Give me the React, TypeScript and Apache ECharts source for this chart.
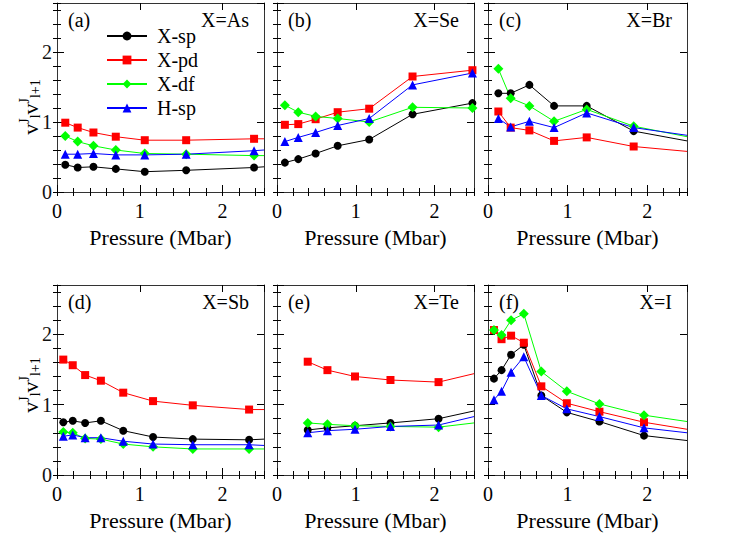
import React, { useEffect, useRef } from "react";
import * as echarts from "echarts";

const FONT = "'Liberation Serif', 'Times New Roman', Times, serif";

const PANEL_LABELS = ["(a)", "(b)", "(c)", "(d)", "(e)", "(f)"];
const ELEMENT_LABELS = ["X=As", "X=Se", "X=Br", "X=Sb", "X=Te", "X=I"];
const SERIES_NAMES = ["X-sp", "X-pd", "X-df", "H-sp"];
const X_AXIS_NAME = "Pressure (Mbar)";

// (a) X=As  (last value = where the line leaves the frame)
const X_A = [0.1, 0.25, 0.44, 0.71, 1.06, 1.56, 2.38, 2.5];
const A_SP = [0.39, 0.35, 0.36, 0.33, 0.29, 0.31, 0.35, 0.36];
const A_PD = [0.99, 0.92, 0.85, 0.79, 0.74, 0.74, 0.76, 0.76];
const A_DF = [0.8, 0.72, 0.66, 0.6, 0.55, 0.54, 0.52, 0.52];
const A_HSP = [0.54, 0.54, 0.55, 0.53, 0.53, 0.54, 0.59, 0.6];

// (b) X=Se
const X_B = [0.1, 0.27, 0.49, 0.77, 1.17, 1.72, 2.48];
const B_SP = [0.42, 0.47, 0.55, 0.66, 0.75, 1.11, 1.27];
const B_PD = [0.96, 0.97, 1.04, 1.14, 1.19, 1.65, 1.74];
const B_DF = [1.24, 1.14, 1.08, 1.05, 1.0, 1.21, 1.2];
const B_HSP = [0.72, 0.78, 0.85, 0.95, 1.05, 1.53, 1.7];

// (c) X=Br
const X_C = [0.13, 0.285, 0.52, 0.83, 1.24, 1.83, 2.5];
const C_SP = [1.41, 1.41, 1.53, 1.23, 1.23, 0.87, 0.73];
const C_PD = [1.15, 0.92, 0.88, 0.73, 0.78, 0.65, 0.58];
const C_DF = [1.76, 1.34, 1.23, 1.01, 1.18, 0.94, 0.79];
const C_HSP = [1.05, 0.93, 1.01, 0.92, 1.13, 0.92, 0.81];

// (d) X=Sb
const X_D = [0.076, 0.19, 0.34, 0.53, 0.8, 1.16, 1.64, 2.32, 2.5];
const D_SP = [0.75, 0.77, 0.74, 0.77, 0.63, 0.54, 0.51, 0.5, 0.51];
const D_PD = [1.64, 1.56, 1.42, 1.34, 1.17, 1.05, 0.99, 0.93, 0.93];
const D_DF = [0.61, 0.6, 0.52, 0.51, 0.44, 0.4, 0.37, 0.37, 0.37];
const D_HSP = [0.55, 0.57, 0.53, 0.53, 0.48, 0.44, 0.43, 0.43, 0.42];

// (e) X=Te
const X_E = [0.39, 0.64, 0.99, 1.44, 2.05, 2.5];
const E_SP = [0.64, 0.67, 0.7, 0.74, 0.8, 0.91];
const E_PD = [1.61, 1.49, 1.4, 1.35, 1.32, 1.44];
const E_DF = [0.74, 0.72, 0.7, 0.69, 0.68, 0.74];
const E_HSP = [0.6, 0.63, 0.65, 0.69, 0.71, 0.83];

// (f) X=I
const X_F = [0.075, 0.17, 0.29, 0.45, 0.67, 0.99, 1.4, 1.96, 2.5];
const F_SP = [1.37, 1.49, 1.71, 1.85, 1.13, 0.89, 0.76, 0.56, 0.49];
const F_PD = [2.06, 1.93, 1.98, 1.88, 1.26, 1.02, 0.9, 0.75, 0.65];
const F_DF = [2.06, 1.99, 2.2, 2.29, 1.47, 1.19, 1.01, 0.85, 0.76];
const F_HSP = [1.07, 1.19, 1.46, 1.68, 1.13, 0.94, 0.83, 0.67, 0.6];

const PANELS = [
  { x: X_A, ys: [A_SP, A_PD, A_DF, A_HSP] },
  { x: X_B, ys: [B_SP, B_PD, B_DF, B_HSP] },
  { x: X_C, ys: [C_SP, C_PD, C_DF, C_HSP] },
  { x: X_D, ys: [D_SP, D_PD, D_DF, D_HSP] },
  { x: X_E, ys: [E_SP, E_PD, E_DF, E_HSP] },
  { x: X_F, ys: [F_SP, F_PD, F_DF, F_HSP] },
];

const X_MAX = 2.5;
const Y_MAX = 2.7;

const GRIDS = [
  { left: 57, top: 3, width: 207, height: 189 },
  { left: 277, top: 3, width: 197, height: 189 },
  { left: 488, top: 3, width: 199, height: 189 },
  { left: 57, top: 285, width: 207, height: 190 },
  { left: 277, top: 285, width: 197, height: 190 },
  { left: 488, top: 285, width: 199, height: 190 },
];

const STYLES = [
  { color: "#000000", symbol: "circle", size: 8 },
  { color: "#ff0000", symbol: "rect", size: 8 },
  { color: "#00ff00", symbol: "diamond", size: 10 },
  { color: "#0000ff", symbol: "triangle", size: 9 },
];

const AXIS_LINE = { show: true, onZero: false, lineStyle: { color: "#333", width: 1 } };

function buildOption() {
  const xAxis: any[] = [];
  const yAxis: any[] = [];
  const series: any[] = [];
  const title: any[] = [];

  GRIDS.forEach((g, gi) => {
    const xb = { gridIndex: gi, type: "value", min: 0, max: X_MAX, splitLine: { show: false } };
    xAxis.push(
      {
        ...xb,
        position: "bottom",
        interval: 1,
        axisLine: AXIS_LINE,
        axisTick: { show: true, inside: true, length: 7, lineStyle: { color: "#000" } },
        axisLabel: { show: true, showMaxLabel: false, margin: 9, fontSize: 20, fontFamily: FONT, color: "#000" },
        name: X_AXIS_NAME,
        nameLocation: "middle",
        nameGap: 34,
        nameTextStyle: { fontSize: 22, fontFamily: FONT, color: "#000" },
      },
      {
        ...xb,
        position: "bottom",
        interval: 0.2,
        axisLine: { show: false },
        axisTick: { show: true, inside: true, length: 4, lineStyle: { color: "#000" } },
        axisLabel: { show: false },
      },
      {
        ...xb,
        position: "top",
        interval: 1,
        axisLine: AXIS_LINE,
        axisTick: { show: true, inside: true, length: 7, lineStyle: { color: "#000" } },
        axisLabel: { show: false },
      },
      {
        ...xb,
        position: "top",
        interval: 0.2,
        axisLine: { show: false },
        axisTick: { show: true, inside: true, length: 4, lineStyle: { color: "#000" } },
        axisLabel: { show: false },
      }
    );
    const yb = { gridIndex: gi, type: "value", min: 0, max: Y_MAX, splitLine: { show: false } };
    const showY = gi === 0 || gi === 3;
    yAxis.push(
      {
        ...yb,
        position: "left",
        interval: 1,
        axisLine: AXIS_LINE,
        axisTick: { show: true, inside: true, length: 7, lineStyle: { color: "#000" } },
        axisLabel: { show: showY, showMaxLabel: false, margin: 5, fontSize: 20, fontFamily: FONT, color: "#111" },
      },
      {
        ...yb,
        position: "left",
        interval: 0.2,
        axisLine: { show: false },
        axisTick: { show: true, inside: true, length: 4, lineStyle: { color: "#000" } },
        axisLabel: { show: false },
      },
      {
        ...yb,
        position: "right",
        interval: 1,
        axisLine: AXIS_LINE,
        axisTick: { show: true, inside: true, length: 7, lineStyle: { color: "#000" } },
        axisLabel: { show: false },
      },
      {
        ...yb,
        position: "right",
        interval: 0.2,
        axisLine: { show: false },
        axisTick: { show: true, inside: true, length: 4, lineStyle: { color: "#000" } },
        axisLabel: { show: false },
      }
    );

    const p = PANELS[gi];
    p.ys.forEach((ys, si) => {
      const st = STYLES[si];
      series.push({
        type: "line",
        name: SERIES_NAMES[si],
        xAxisIndex: gi * 4,
        yAxisIndex: gi * 4,
        clip: true,
        symbol: st.symbol,
        symbolSize: st.size,
        color: st.color,
        lineStyle: { color: st.color, width: 1 },
        itemStyle: { color: st.color },
        data: p.x.map((x, i) => (x >= X_MAX ? { value: [x, ys[i]], symbol: "none" } : [x, ys[i]])),
      });
    });

    title.push(
      {
        text: PANEL_LABELS[gi],
        left: g.left + 11,
        top: g.top + 7,
        padding: 0,
        textStyle: { fontSize: 20, fontWeight: "normal", fontFamily: FONT, color: "#000" },
      },
      {
        text: ELEMENT_LABELS[gi],
        right: 730 - (g.left + g.width - 15),
        top: g.top + 7,
        padding: 0,
        textStyle: { fontSize: 20, fontWeight: "normal", fontFamily: FONT, color: "#000" },
      }
    );
  });

  const yName = "{v|v}{s|J}{b|l}{v|v}{s|J}{b|l+1}";
  const rich = {
    v: { fontSize: 22, fontFamily: FONT, fill: "#000" },
    s: { fontSize: 14, fontFamily: FONT, fill: "#000", padding: [0, 0, 11, 0] },
    b: { fontSize: 14, fontFamily: FONT, fill: "#000", padding: [11, 0, 0, 0] },
  };

  return {
    animation: false,
    backgroundColor: "#fff",
    textStyle: { fontFamily: FONT },
    title,
    grid: GRIDS.map((g) => ({ ...g, containLabel: false })),
    xAxis,
    yAxis,
    series,
    legend: {
      data: SERIES_NAMES,
      orient: "vertical",
      left: 106,
      top: 26,
      itemWidth: 40,
      itemHeight: 11,
      itemGap: 4,
      selectedMode: false,
      padding: 0,
      textStyle: { fontSize: 20, fontFamily: FONT, color: "#000", padding: [0, 0, 0, 5] },
    },
    graphic: [
      {
        type: "text",
        x: 30,
        y: 107,
        rotation: Math.PI / 2,
        style: { text: yName, rich, fontSize: 22, fontFamily: FONT, align: "center", verticalAlign: "middle", fill: "#000" },
      },
      {
        type: "text",
        x: 30,
        y: 385,
        rotation: Math.PI / 2,
        style: { text: yName, rich, fontSize: 22, fontFamily: FONT, align: "center", verticalAlign: "middle", fill: "#000" },
      },
    ],
  };
}

export default function App() {
  const ref = useRef<HTMLDivElement>(null);
  useEffect(() => {
    if (!ref.current) return;
    const chart = echarts.init(ref.current, undefined, { renderer: "svg" });
    chart.setOption(buildOption() as any);
    return () => chart.dispose();
  }, []);
  return (
    <div
      ref={ref}
      style={{ position: "fixed", left: 0, top: 0, width: 730, height: 535, background: "#fff" }}
    />
  );
}
